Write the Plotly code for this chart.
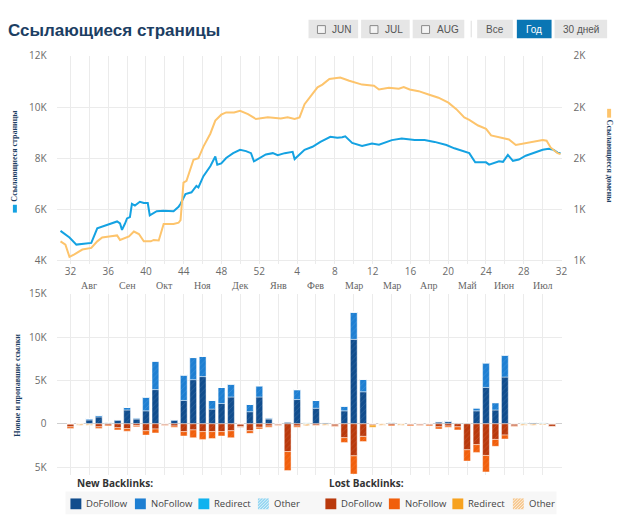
import plotly.graph_objects as go

W, H = 628, 523

# ---------------- data ----------------
week_ticks = [0, 4, 8, 12, 16, 20, 24, 28, 32, 36, 40, 44, 48, 52]
week_labels = ["32", "36", "40", "44", "48", "52", "4", "8", "12", "16", "20", "24", "28", "32"]
month_pos = [2, 6, 10, 14, 18, 22, 26, 30, 34, 38, 42, 46, 50]
month_labels = ["Авг", "Сен", "Окт", "Ноя", "Дек", "Янв", "Фев", "Мар", "Мар", "Апр", "Май", "Июн", "Июл"]

# referring pages (left axis), x = weeks since week 32
pages_x = [-1.05, -0.63, -0.1, 0.63, 1.47, 2.21, 2.84, 3.36, 4.10, 4.94, 5.25, 5.46, 5.78, 5.99,
           6.30, 6.51, 6.83, 7.35, 7.77, 8.19, 8.40, 8.82, 9.14, 9.87, 10.61, 10.92, 11.45, 11.66,
           12.18, 12.82, 13.34, 13.55, 14.08, 14.81, 15.34, 15.55, 15.97, 16.49, 17.23, 17.96,
           18.59, 19.12, 19.43, 20.06, 20.69, 21.43, 21.95, 22.69, 23.53, 23.74, 24.37, 24.79,
           25.63, 26.47, 27.52, 28.26, 28.78, 29.10, 29.83, 30.88, 31.93, 32.67, 34.03, 35.08,
           36.45, 37.50, 38.56, 39.81, 40.65, 41.60, 42.23, 42.86, 44.01, 44.33, 45.38, 45.80,
           46.32, 46.85, 47.48, 48.21, 49.26, 50.00, 50.63, 51.16, 51.58, 51.89]
pages_y = [5160, 5050, 4900, 4625, 4650, 4690, 5260, 5330, 5420, 5530, 5450, 5200, 5450, 5650,
           5700, 6220, 6150, 6300, 6250, 6250, 5770, 5880, 5930, 5950, 5920, 5930, 6100, 6220,
           6600, 6670, 6920, 6860, 7300, 7690, 8070, 7750, 7800, 8010, 8200, 8330,
           8280, 8200, 7880, 8000, 8150, 8200, 8120, 8200, 8250, 7970, 8200, 8330,
           8450, 8645, 8840, 8800, 8820, 8860, 8600, 8480, 8580, 8530, 8710, 8770,
           8710, 8710, 8640, 8520, 8390, 8260, 8200, 7840, 7840, 7750, 7880, 7860,
           8130, 7900, 7950, 8100, 8220, 8330, 8370, 8330, 8220, 8200]

# referring domains (right axis)
domains_x = [-1.05, -0.53, -0.1, 0.42, 1.26, 2.21, 2.84, 3.36, 4.10, 4.94, 5.25, 5.78, 6.20, 6.72,
             7.25, 7.77, 8.51, 8.82, 9.35, 9.87, 10.92, 11.45, 11.66, 11.97, 12.29, 13.03, 13.55,
             14.08, 14.81, 15.34, 15.97, 16.49, 17.33, 17.96, 18.80, 19.64, 20.90, 22.27, 23.00,
             23.74, 24.26, 24.79, 25.63, 26.16, 26.68, 27.42, 28.57, 29.52, 30.88, 32.14, 32.67,
             33.72, 34.77, 35.29, 35.92, 36.87, 37.92, 38.97, 40.02, 40.86, 41.70, 42.23, 43.17,
             44.01, 44.54, 45.80, 46.43, 47.16, 47.90, 48.95, 50.00, 50.42, 50.84, 51.58, 51.89]
domains_y = [1094, 1078, 1018, 1030, 1054, 1062, 1094, 1113, 1118, 1123, 1101, 1110, 1118, 1142,
             1130, 1094, 1094, 1101, 1098, 1179, 1179, 1185, 1198, 1381, 1390, 1493, 1500,
             1557, 1620, 1684, 1713, 1724, 1724, 1732, 1716, 1692, 1700, 1695, 1700,
             1692, 1700, 1764, 1812, 1847, 1860, 1888, 1895, 1879, 1860, 1855, 1836,
             1845, 1840, 1848, 1836, 1828, 1812, 1796, 1772, 1740, 1700, 1688, 1660,
             1644, 1612, 1601, 1592, 1565, 1572, 1581, 1589, 1586, 1553, 1525, 1520]

bar_weeks = list(range(52))
new_dofollow = [0, 0, 450, 800, 0, 400, 1600, 550, 1500, 3950, 0, 400, 2700, 5100, 5450, 1700,
                2350, 3100, 0, 1400, 3100, 550, 0, 200, 2800, 0, 1800, 150, 0, 1500, 9750, 3700,
                0, 0, 0, 0, 0, 0, 0, 200, 250, 0, 0, 1500, 4200, 1600, 5400, 0, 0, 150, 0, 0]
new_nofollow = [0, 0, 150, 200, 0, 100, 300, 150, 1600, 3300, 0, 100, 2950, 2550, 2350, 1000,
                1850, 1500, 0, 850, 1300, 150, 0, 50, 1150, 0, 900, 50, 0, 550, 3150, 1450,
                0, 0, 0, 0, 0, 0, 0, 100, 100, 0, 0, 350, 2850, 850, 2550, 0, 0, 50, 0, 0]
new_redirect = [0] * 52
new_other = [0, 0, 0, 0, 200, 0, 0, 0, 0, 0, 0, 0, 0, 0, 0, 0,
             0, 0, 0, 0, 0, 0, 0, 0, 0, 200, 0, 0, 0, 0, 0, 0,
             0, 0, 200, 0, 0, 0, 0, 0, 0, 150, 150, 0, 0, 0, 0, 0, 200, 0, 200, 0]

lost_dofollow = [350, 0, 0, 350, 150, 450, 550, 200, 800, 600, 150, 250, 900, 700, 900, 900,
                 900, 800, 300, 800, 400, 250, 150, 3200, 250, 0, 150, 0, 250, 1600, 3700, 1450,
                 150, 0, 150, 0, 150, 150, 150, 350, 250, 350, 3000, 2400, 3650, 1800, 1300, 250,
                 0, 0, 0, 300]
lost_nofollow = [200, 0, 0, 200, 100, 250, 300, 150, 500, 450, 50, 150, 500, 900, 900, 800,
                 500, 800, 100, 300, 200, 150, 50, 2200, 150, 0, 50, 0, 50, 550, 2100, 600,
                 0, 0, 100, 0, 100, 50, 100, 250, 150, 350, 1300, 900, 1900, 800, 450, 50,
                 0, 0, 0, 50]
lost_redirect = [0] * 32 + [250] + [0] * 19
lost_other = [0, 200, 200, 0, 0, 0, 0, 0, 0, 0, 0, 0, 0, 0, 0, 0,
              0, 0, 0, 0, 0, 0, 0, 0, 0, 250, 0, 200, 0, 0, 0, 0,
              0, 200, 0, 200, 0, 0, 0, 0, 0, 0, 0, 0, 0, 0, 0, 0, 200, 200, 150, 0]

# ---------------- styling ----------------
BLUE = "#14a2e2"
YELLOW = "#fdc46c"
GRID = "#ebebeb"
TICK = "#6b6b6b"
NAVY = "#1c3e63"

NEW_COLORS = {"DoFollow": "#114d8d", "NoFollow": "#1e7fd2", "Redirect": "#0fb2ef", "Other": "#93d5f1"}
LOST_COLORS = {"DoFollow": "#b9390c", "NoFollow": "#f15f0c", "Redirect": "#f7a21f", "Other": "#f6c78e"}


def px(x):
    return x / W


def py(y):
    return 1 - y / H


XDOM = [px(57), px(567)]
XRANGE = [-1.47, 52.1]
grid_ticks = list(range(0, 53, 2))
grid_text = [week_labels[week_ticks.index(t)] if t in week_ticks else "" for t in grid_ticks]

fig = go.Figure()

fig.add_trace(go.Scatter(x=pages_x, y=pages_y, mode="lines", line=dict(color=BLUE, width=2),
                         xaxis="x", yaxis="y", name="Ссылающиеся страницы", hoverinfo="skip"))
fig.add_trace(go.Scatter(x=domains_x, y=domains_y, mode="lines", line=dict(color=YELLOW, width=2),
                         xaxis="x", yaxis="y2", name="Ссылающиеся домены", hoverinfo="skip"))

new_series = [("DoFollow", new_dofollow), ("NoFollow", new_nofollow),
              ("Redirect", new_redirect), ("Other", new_other)]
lost_series = [("DoFollow", lost_dofollow), ("NoFollow", lost_nofollow),
               ("Redirect", lost_redirect), ("Other", lost_other)]

for name, vals in new_series:
    other = name == "Other"
    fig.add_trace(go.Bar(
        x=bar_weeks, y=vals, width=0.72, xaxis="x2", yaxis="y3", name="New " + name,
        marker=dict(color=NEW_COLORS[name],
                    line=dict(color="rgba(255,255,255,0.55)", width=0.8),
                    pattern=dict(shape="/", size=4, solidity=0.45 if other else 0.2,
                                 fgcolor="#ffffff", fgopacity=0.55 if other else 0.12,
                                 fillmode="overlay")),
        hoverinfo="skip"))
for name, vals in lost_series:
    other = name == "Other"
    fig.add_trace(go.Bar(
        x=bar_weeks, y=[-v for v in vals], width=0.72, xaxis="x2", yaxis="y3", name="Lost " + name,
        marker=dict(color=LOST_COLORS[name],
                    line=dict(color="rgba(255,255,255,0.55)", width=0.8),
                    pattern=dict(shape="/", size=4, solidity=0.45 if other else 0.2,
                                 fgcolor="#ffffff", fgopacity=0.55 if other else 0.12,
                                 fillmode="overlay")),
        hoverinfo="skip"))

tickfont = dict(family="Open Sans", size=10, color=TICK)

fig.update_layout(
    width=W, height=H, margin=dict(l=0, r=0, t=0, b=0),
    paper_bgcolor="white", plot_bgcolor="white", showlegend=False,
    barmode="relative",
    xaxis=dict(domain=XDOM, range=XRANGE, anchor="y", tickmode="array", tickvals=grid_ticks,
               ticktext=grid_text, showgrid=True, gridcolor=GRID, gridwidth=1, zeroline=False,
               ticks="", tickfont=tickfont, showline=False, fixedrange=True),
    yaxis=dict(domain=[py(262), py(49)], range=[3847, 12000], tickmode="array",
               tickvals=[4000, 6000, 8000, 10000, 12000], ticktext=["4K", "6K", "8K", "10K", "12K"],
               showgrid=True, gridcolor=GRID, zeroline=False, ticks="", tickfont=tickfont,
               ticklabelstandoff=9),
    yaxis2=dict(overlaying="y", side="right", anchor="x", range=[980.9, 2000], tickmode="array",
                tickvals=[1000, 1250, 1500, 1750, 2000], ticktext=["1K", "1K", "2K", "2K", "2K"],
                showgrid=False, zeroline=False, ticks="", tickfont=tickfont, ticklabelstandoff=10),
    xaxis2=dict(domain=XDOM, range=XRANGE, anchor="y3", tickmode="array", tickvals=grid_ticks,
                showticklabels=False, showgrid=True, gridcolor=GRID, zeroline=False, ticks=""),
    yaxis3=dict(domain=[py(477), py(292)], range=[-5904, 15000], tickmode="array",
                tickvals=[-5000, 0, 5000, 10000, 15000], ticktext=["5K", "0", "5K", "10K", "15K"],
                showgrid=True, gridcolor=GRID, zeroline=True, zerolinecolor="#cfcfcf",
                zerolinewidth=1, ticks="", tickfont=tickfont, ticklabelstandoff=9),
)

ann = []
shapes = []

# month labels
for pos, lab in zip(month_pos, month_labels):
    ann.append(dict(x=pos, y=py(283), xref="x", yref="paper", text=lab, showarrow=False,
                    font=dict(family="Liberation Serif", size=10, color="#666666"),
                    xanchor="center", yanchor="middle"))

# title
ann.append(dict(x=px(6), y=py(23), xref="paper", yref="paper", text="<b>Ссылающиеся страницы</b>",
                showarrow=False, xanchor="left", yanchor="middle",
                font=dict(family="Liberation Sans", size=17, color=NAVY)))

# axis titles
ann.append(dict(x=px(15), y=py(151), xref="paper", yref="paper", text="<b>Ссылающиеся страницы</b>",
                textangle=-90, showarrow=False, xanchor="center", yanchor="middle",
                font=dict(family="Liberation Serif", size=8, color=NAVY)))
shapes.append(dict(type="rect", xref="paper", yref="paper", x0=px(13), x1=px(17),
                   y0=py(209), y1=py(201), fillcolor=BLUE, line=dict(width=0)))
ann.append(dict(x=px(614), y=py(157), xref="paper", yref="paper", text="<b>Ссылающиеся домены</b>",
                textangle=90, showarrow=False, xanchor="center", yanchor="middle",
                font=dict(family="Liberation Serif", size=8, color=NAVY)))
shapes.append(dict(type="rect", xref="paper", yref="paper", x0=px(612), x1=px(616),
                   y0=py(112), y1=py(103), fillcolor=YELLOW, line=dict(width=0)))
ann.append(dict(x=px(18), y=py(385), xref="paper", yref="paper", text="<b>Новые и пропавшие ссылки</b>",
                textangle=-90, showarrow=False, xanchor="center", yanchor="middle",
                font=dict(family="Liberation Serif", size=8, color=NAVY)))

# period buttons
buttons = [("JUN", 311, 361, True, False), ("JUL", 364, 413, True, False), ("AUG", 416, 468, True, False),
           ("Все", 481, 517, False, False), ("Год", 521, 556, False, True), ("30 дней", 559, 612, False, False)]
for lab, x0, x1, cb, active in buttons:
    shapes.append(dict(type="rect", xref="paper", yref="paper", x0=px(x0), x1=px(x1),
                       y0=py(31), y1=py(12), fillcolor="#0a76b4" if active else "#e6e6e6",
                       line=dict(width=0)))
    if cb:
        shapes.append(dict(type="rect", xref="paper", yref="paper", x0=px(x0 + 9), x1=px(x0 + 17),
                           y0=py(26), y1=py(18), fillcolor="#f4f4f4",
                           line=dict(color="#8a8a8a", width=1)))
        ann.append(dict(x=px(x0 + 22), y=py(22), xref="paper", yref="paper", text=lab,
                        showarrow=False, xanchor="left", yanchor="middle",
                        font=dict(family="Liberation Sans Narrow, Liberation Sans", size=10, color="#555555")))
    else:
        ann.append(dict(x=px((x0 + x1) / 2), y=py(22), xref="paper", yref="paper", text=lab,
                        showarrow=False, xanchor="center", yanchor="middle",
                        font=dict(family="Liberation Sans Narrow, Liberation Sans", size=10,
                                  color="#ffffff" if active else "#555555")))
shapes.append(dict(type="line", xref="paper", yref="paper", x0=px(475), x1=px(475),
                   y0=py(30), y1=py(13), line=dict(color="#dddddd", width=1)))

# legend
shapes.append(dict(type="rect", xref="paper", yref="paper", x0=px(66), x1=px(561),
                   y0=py(517), y1=py(494), fillcolor="#f7f7f7", line=dict(width=0)))
ann.append(dict(x=px(76), y=py(485), xref="paper", yref="paper", text="<b>New Backlinks:</b>",
                showarrow=False, xanchor="left", yanchor="middle",
                font=dict(family="Open Sans", size=10, color="#333333")))
ann.append(dict(x=px(330), y=py(485), xref="paper", yref="paper", text="<b>Lost Backlinks:</b>",
                showarrow=False, xanchor="left", yanchor="middle",
                font=dict(family="Open Sans", size=10, color="#333333")))
legend_items = [("DoFollow", NEW_COLORS["DoFollow"], 71, False), ("NoFollow", NEW_COLORS["NoFollow"], 136, False),
                ("Redirect", NEW_COLORS["Redirect"], 200, False), ("Other", NEW_COLORS["Other"], 260, True),
                ("DoFollow", LOST_COLORS["DoFollow"], 328, False), ("NoFollow", LOST_COLORS["NoFollow"], 392, False),
                ("Redirect", LOST_COLORS["Redirect"], 456, False), ("Other", LOST_COLORS["Other"], 517, True)]
for lab, col, x0, hatched in legend_items:
    shapes.append(dict(type="rect", xref="paper", yref="paper", x0=px(x0), x1=px(x0 + 11),
                       y0=py(512), y1=py(501), fillcolor=col, line=dict(width=0)))
    if hatched:
        for k in range(-8, 12, 3):
            xa, xb = x0 + max(k, 0), x0 + min(k + 11, 11)
            ya, yb = 512 - (xa - (x0 + k)), 512 - (xb - (x0 + k))
            shapes.append(dict(type="line", xref="paper", yref="paper", x0=px(xa), x1=px(xb),
                               y0=py(ya), y1=py(yb), line=dict(color="rgba(255,255,255,0.7)", width=1)))
    ann.append(dict(x=px(x0 + 14), y=py(506), xref="paper", yref="paper", text=lab,
                    showarrow=False, xanchor="left", yanchor="middle",
                    font=dict(family="Open Sans", size=9.5, color="#444444")))

fig.update_layout(annotations=ann, shapes=shapes)
fig.write_html("out.html")
